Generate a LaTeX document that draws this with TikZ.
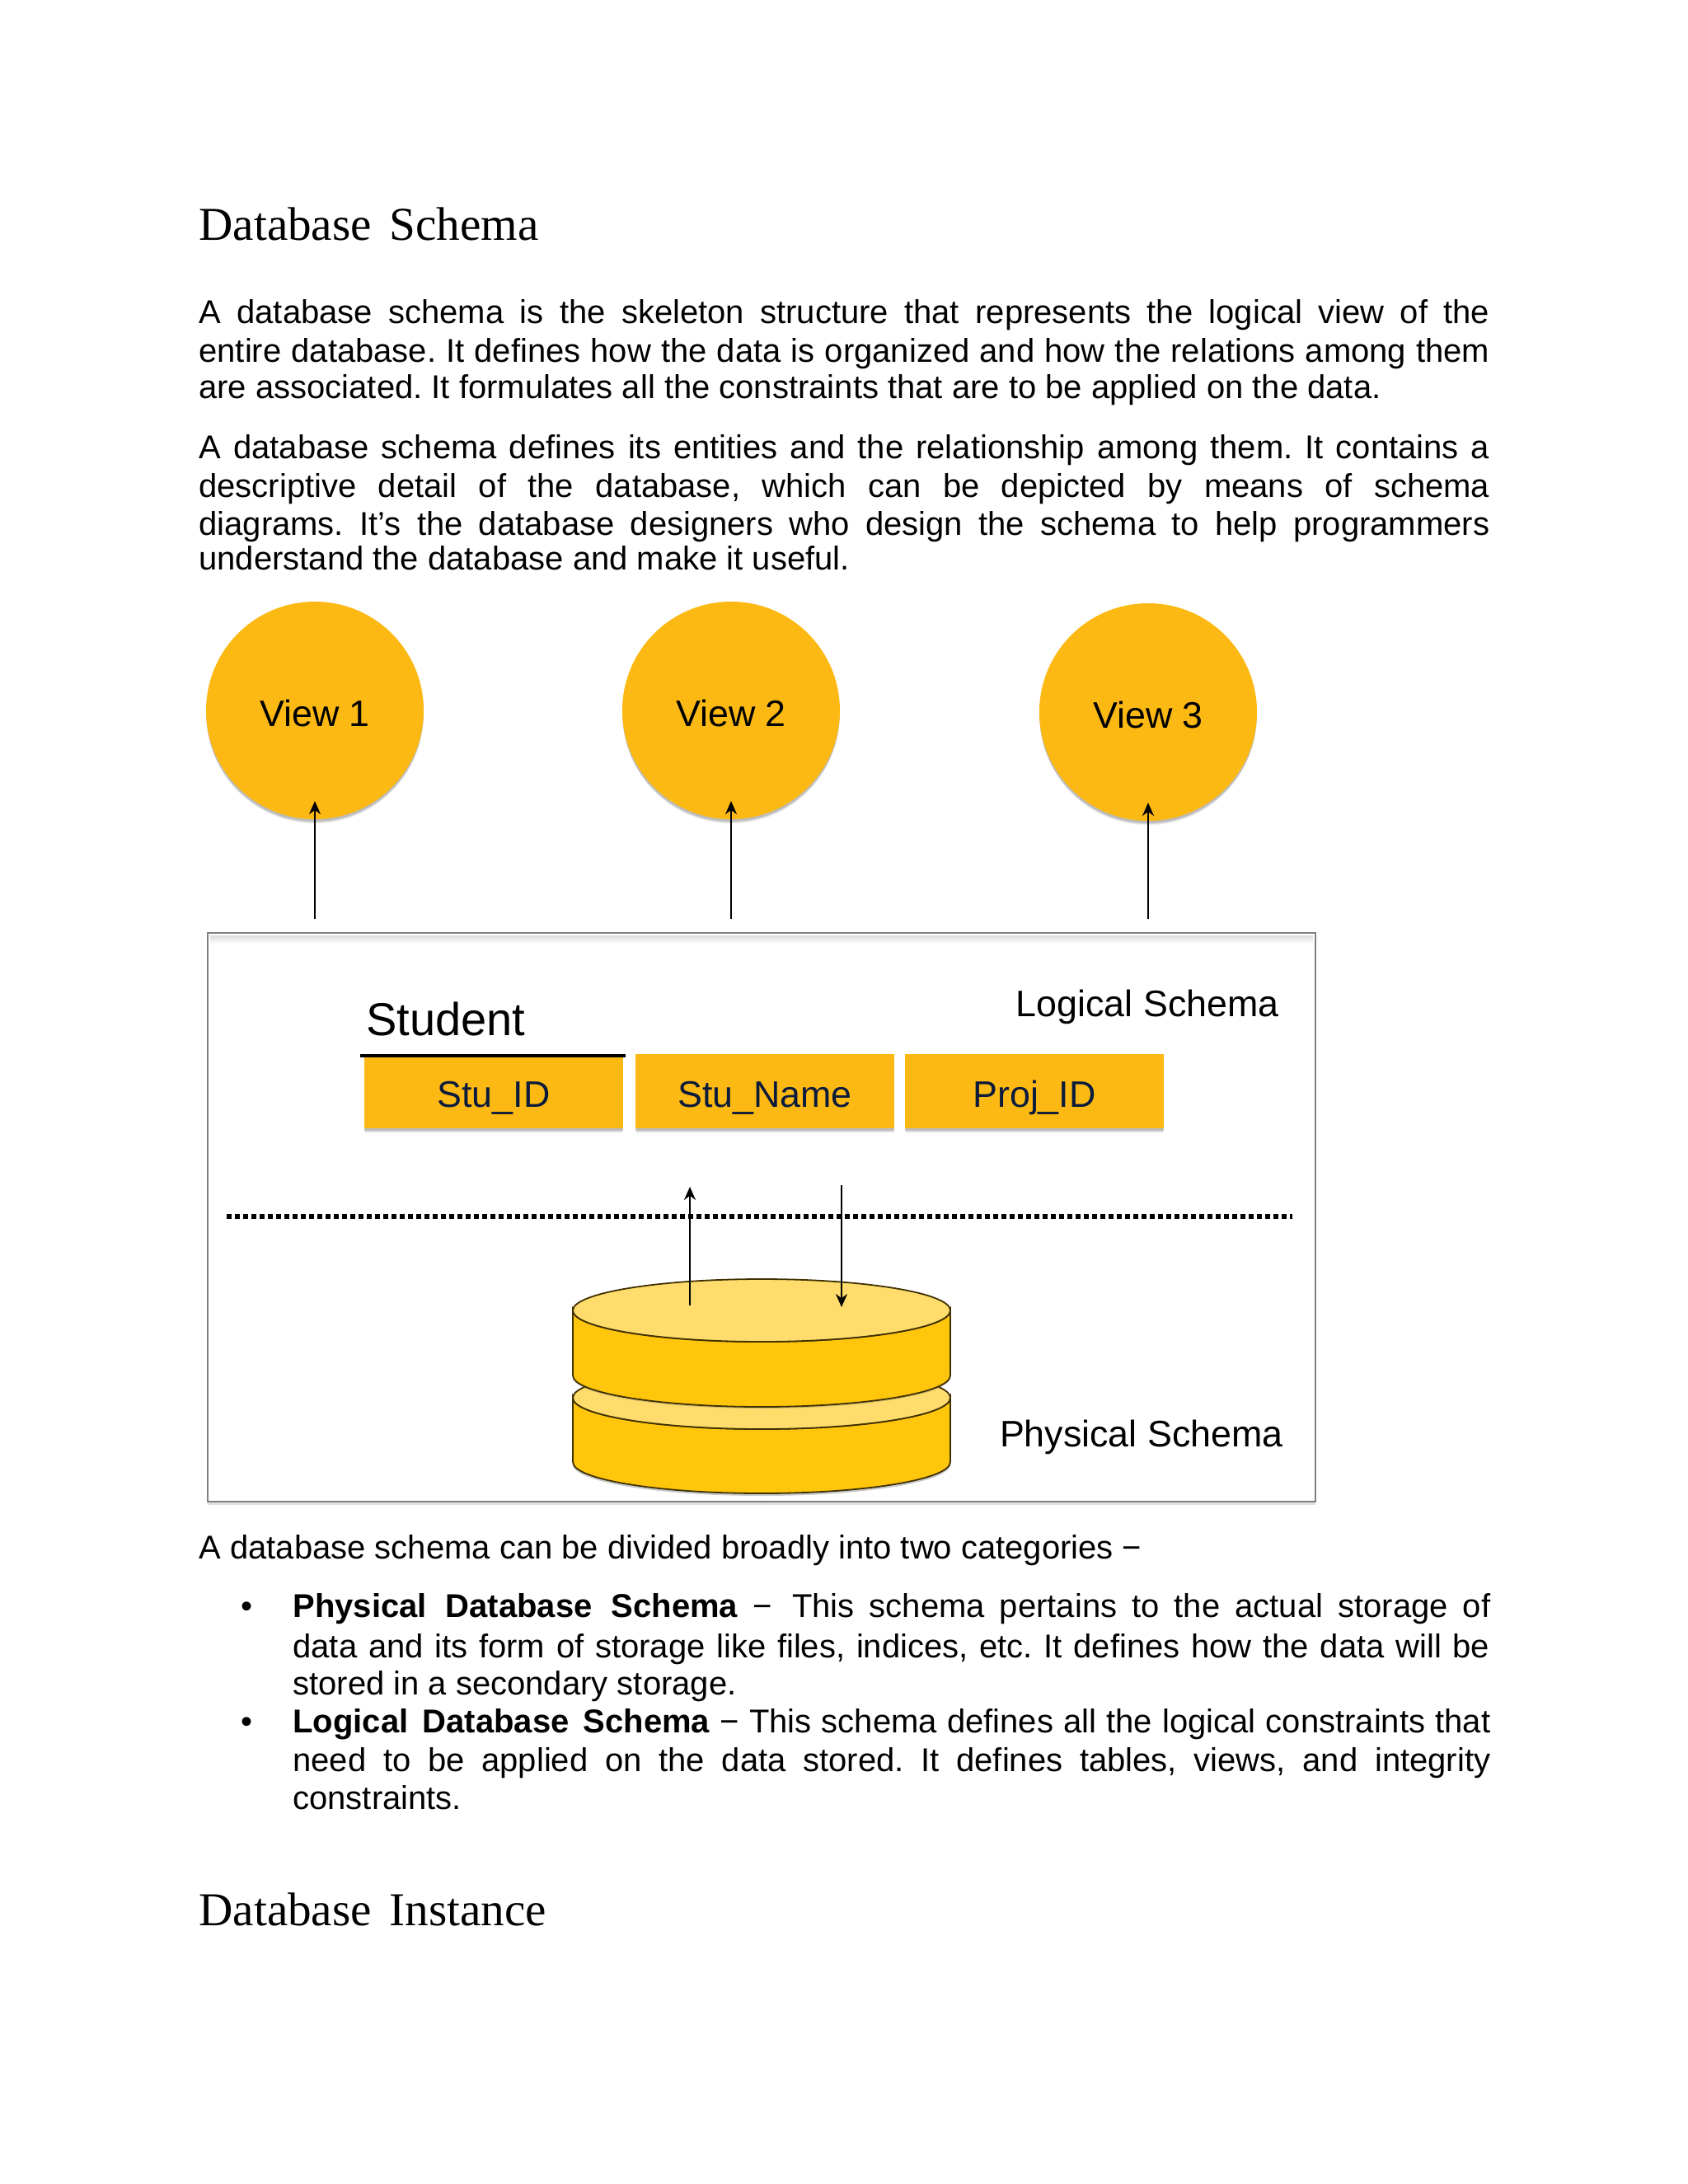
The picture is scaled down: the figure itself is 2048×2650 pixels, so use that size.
\documentclass[tikz,border=0pt]{standalone}
\usepackage{fontspec}
\setmainfont{Liberation Sans}
\newfontfamily\headfont[WordSpace=1.5]{Liberation Serif}
\usetikzlibrary{shadows,arrows.meta}
\definecolor{viewfill}{HTML}{FDB913}
\definecolor{cylside}{HTML}{FFC60B}
\definecolor{cyltop}{HTML}{FFDC6B}
\definecolor{boxedge}{HTML}{7F7F7F}
\definecolor{navy}{HTML}{0B1B3B}
\tikzset{
 x=0.5pt,y=-0.5pt,
 softshadow/.style={
   drop shadow={shadow xshift=0pt,shadow yshift=-3pt,opacity=.08,fill=black!70,shadow scale=0.995},
   drop shadow={shadow xshift=0pt,shadow yshift=-2.2pt,opacity=.14,fill=black!70,shadow scale=0.997},
   drop shadow={shadow xshift=0pt,shadow yshift=-1.4pt,opacity=.2,fill=black!70,shadow scale=1}},
 viewnode/.style={circle,fill=viewfill,minimum size=132pt,inner sep=0pt,softshadow,font=\fontsize{22.4}{26}\selectfont},
 fieldnode/.style={rectangle,fill=viewfill,minimum height=45pt,inner sep=0pt,softshadow,text=navy,font=\fontsize{22.4}{26}\selectfont},
 bodyline/.style={anchor=base west,inner sep=0pt,font=\frenchspacing\fontsize{20}{24}\selectfont},
 headline/.style={anchor=base west,inner sep=0pt,font=\headfont\fontsize{28.6}{36}\selectfont},
 lbl/.style={inner sep=0pt,font=\fontsize{22.4}{26}\selectfont},
 conn/.style={line width=1.1pt,-{Stealth[length=8pt,width=7pt]}},
 cyledge/.style={draw=black!75!cylside,line width=0.9pt},
}
\newcommand{\jline}[5]{\node[bodyline] (#1) at (#2,#3) {\makebox[#4pt][s]{#5}};}
\newcommand{\pline}[4]{\node[bodyline] (#1) at (#2,#3) {#4};}
\newcommand{\lowered}[2]{\raisebox{-#1pt}[0pt][0pt]{#2}}
\begin{document}
\begin{tikzpicture}
\useasboundingbox[fill=white] (0,0) rectangle (2048,2650);

\node[headline] (h1) at (241,291) {Database Schema};
\jline{a1}{241}{392}{783}{A database schema is the skeleton structure that represents the logical view of the}
\jline{a2}{241}{439}{783}{entire database. It defines how the data is organized and how the relations among them}
\pline{a3}{241}{483}{are associated. It formulates all the constraints that are to be applied on the data.}
\jline{b1}{241}{556}{783}{A database schema defines its entities and the relationship among them. It contains a}
\jline{b2}{241}{603}{783}{descriptive detail of the database, which can be depicted by means of schema}
\jline{b3}{241}{649}{783}{diagrams. It’s the database designers who design the schema to help programmers}
\pline{b4}{241}{691}{understand the database and make it useful.}

% outer box
\node[draw=boxedge,line width=1.4pt,fill=white,minimum width=672pt,minimum height=345pt,inner sep=0pt,
  drop shadow={shadow xshift=0pt,shadow yshift=-2pt,opacity=.2,fill=black!60}] (box) at (924,1477) {};
\shade[top color=black!14,bottom color=white] (255,1135) rectangle (1593,1145);

% views
\node[viewnode] (v1) at (382,862) {\lowered{9.5}{View 1}};
\node[viewnode] (v2) at (887,862) {\lowered{9.5}{View 2}};
\node[viewnode] (v3) at (1393,864) {\lowered{9.5}{View 3}};
\coordinate (v1s) at (382,1115); \coordinate (v1e) at (382,972);
\coordinate (v2s) at (887,1115); \coordinate (v2e) at (887,972);
\coordinate (v3s) at (1393,1115); \coordinate (v3e) at (1393,974);
\draw[conn] (v1s) -- (v1e);
\draw[conn] (v2s) -- (v2e);
\draw[conn] (v3s) -- (v3e);

% logical
\node[anchor=base west,inner sep=0pt,font=\fontsize{28}{32}\selectfont] (student) at (444,1256) {Student};
\node[lbl,anchor=base east] (logical) at (1552,1233) {Logical Schema};
\node[fieldnode,minimum width=157pt] (f1) at (599,1324) {\lowered{9.75}{Stu\_ID}};
\node[fieldnode,minimum width=157pt] (f2) at (928,1324) {\lowered{9.75}{Stu\_Name}};
\node[fieldnode,minimum width=157pt] (f3) at (1255,1324) {\lowered{9.75}{Proj\_ID}};
\coordinate (ul1) at (437,1281); \coordinate (ul2) at (759,1281);
\draw[line width=2pt] (ul1) -- (ul2);

% dotted divider
\coordinate (d1) at (275,1476); \coordinate (d2) at (1568,1476);
\draw[line width=3pt,dash pattern=on 2.8pt off 2.2pt] (d1) -- (d2);

% cylinders
\fill[black!60,opacity=.35] (695,1696) -- (695,1777) arc[start angle=180,end angle=360,x radius=114.5pt,y radius=19pt] -- (1153,1696) -- cycle;
\path[cyledge,fill=cylside] (695,1696) -- (695,1774) arc[start angle=180,end angle=360,x radius=114.5pt,y radius=19pt] -- (1153,1696) arc[start angle=0,end angle=-180,x radius=114.5pt,y radius=19pt] -- cycle;
\path[cyledge,fill=cyltop] (924,1696) ellipse[x radius=114.5pt,y radius=19pt];
\fill[black!60,opacity=.3] (695,1590) -- (695,1671) arc[start angle=180,end angle=360,x radius=114.5pt,y radius=19pt] -- (1153,1590) -- cycle;
\path[cyledge,fill=cylside] (695,1590) -- (695,1669) arc[start angle=180,end angle=360,x radius=114.5pt,y radius=19pt] -- (1153,1590) arc[start angle=0,end angle=-180,x radius=114.5pt,y radius=19pt] -- cycle;
\path[cyledge,fill=cyltop] (924,1590) ellipse[x radius=114.5pt,y radius=19pt];

\coordinate (u1) at (837,1584); \coordinate (u2) at (837,1440);
\coordinate (w1) at (1021,1438); \coordinate (w2) at (1021,1586);
\draw[conn] (u1) -- (u2);
\draw[conn] (w1) -- (w2);

\node[lbl,anchor=base east] (physical) at (1557,1755) {Physical Schema};

% text below
\pline{c0}{241}{1891}{A database schema can be divided broadly into two categories −}
\node[bodyline] (bu1) at (292,1962) {•};
\jline{c1}{355}{1962}{726.5}{\textbf{Physical\hspace{2.5pt} Database\hspace{2.5pt} Schema} − \hspace{3pt}This schema pertains to the actual storage of}
\jline{c2}{355}{2011}{726}{data and its form of storage like files, indices, etc. It defines how the data will be}
\pline{c3}{355}{2056}{stored in a secondary storage.}
\node[bodyline] (bu2) at (292,2102) {•};
\jline{d1l}{355}{2102}{726.5}{\textbf{Logical\hspace{2.5pt} Database\hspace{2.5pt} Schema} − This schema defines all the logical constraints that}
\jline{d2l}{355}{2149}{726.5}{need to be applied on the data stored. It defines tables, views, and integrity}
\pline{d3l}{355}{2195}{constraints.}
\node[headline] (h2) at (241,2336) {Database Instance};
\end{tikzpicture}
\end{document}
